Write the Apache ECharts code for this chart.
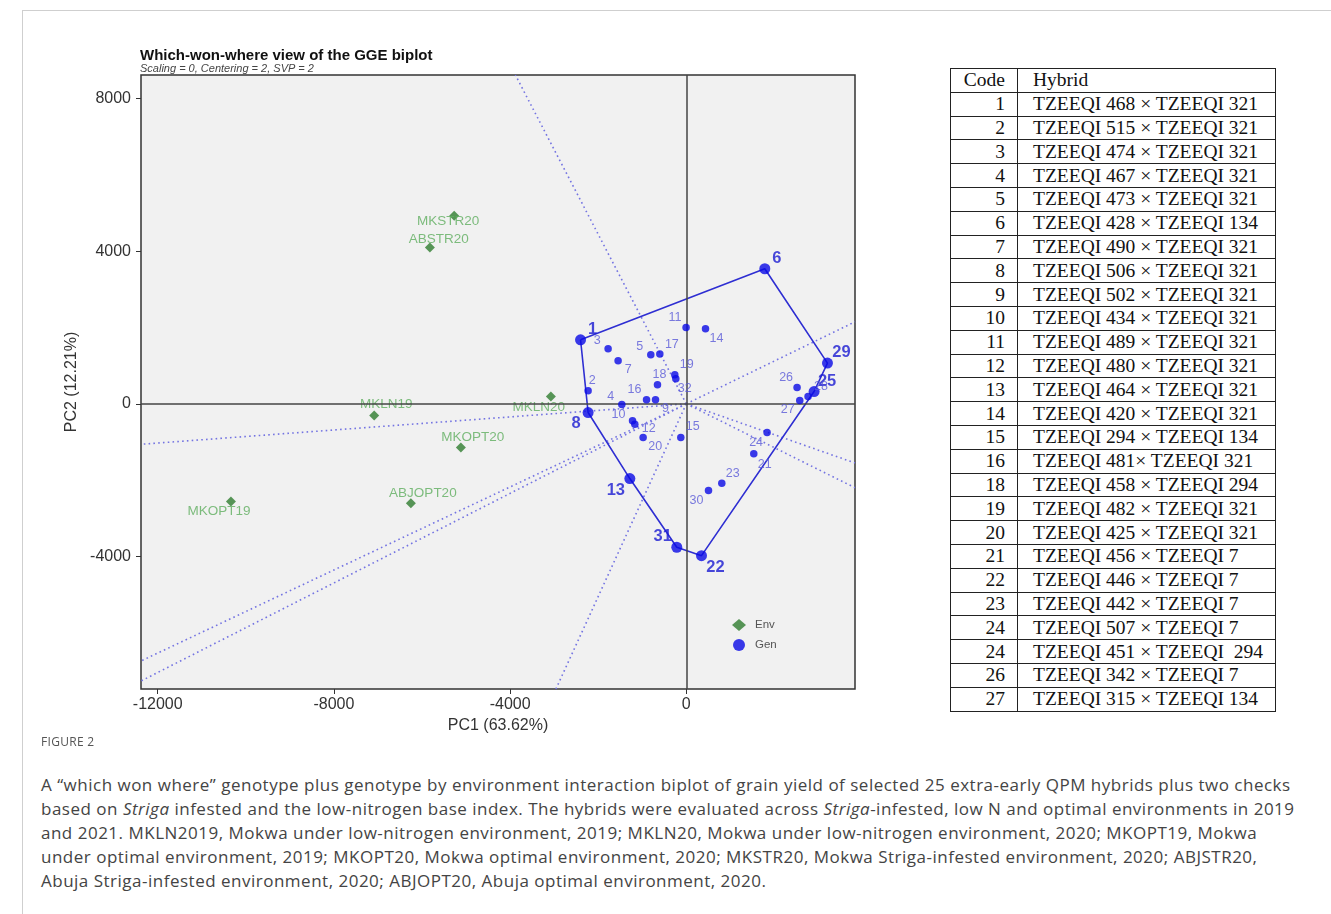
<!DOCTYPE html>
<html>
<head>
<meta charset="utf-8">
<script src="https://cdn.jsdelivr.net/npm/echarts/dist/echarts.min.js"></script>
<style>
  html, body { margin:0; padding:0; background:#fff; width:1331px; height:914px; overflow:hidden; }
  #frame { position:absolute; left:22px; top:10px; width:1320px; height:920px; border-top:1px solid #cfcfcf; border-left:1px solid #cfcfcf; }
  #chart { position:absolute; left:0; top:0; width:940px; height:740px; }
  #tbl { position:absolute; left:950px; top:68px; width:326px; border-collapse:collapse; font-family:"Liberation Serif","Times New Roman",serif; font-size:19.5px; color:#111; }
  #tbl td { border:1px solid #222; padding:0; height:22.8px; line-height:22px; white-space:nowrap; }
  #tbl td.c { width:54px; text-align:right; padding-right:12px; }
  #tbl td.h { text-align:left; padding-left:15px; }
  #fig { position:absolute; left:41px; top:733px; font-family:"Open Sans","Noto Sans",sans-serif; font-size:12px; color:#555; letter-spacing:0.3px; }
  #cap { position:absolute; left:41px; top:773px; font-family:"Open Sans","Noto Sans",sans-serif; font-size:17px; letter-spacing:0.5px; line-height:24px; color:#444; white-space:nowrap; }
</style>
</head>
<body>
<div id="frame"></div>
<div id="chart"></div>
<table id="tbl"></table>
<div id="fig">FIGURE 2</div>
<div id="cap">A “which won where” genotype plus genotype by environment interaction biplot of grain yield of selected 25 extra-early QPM hybrids plus two checks<br>based on <i>Striga</i> infested and the low-nitrogen base index. The hybrids were evaluated across <i>Striga</i>-infested, low N and optimal environments in 2019<br>and 2021. MKLN2019, Mokwa under low-nitrogen environment, 2019; MKLN20, Mokwa under low-nitrogen environment, 2020; MKOPT19, Mokwa<br>under optimal environment, 2019; MKOPT20, Mokwa optimal environment, 2020; MKSTR20, Mokwa Striga-infested environment, 2020; ABJSTR20,<br>Abuja Striga-infested environment, 2020; ABJOPT20, Abuja optimal environment, 2020.</div>
<script>
// ---------------- DATA ----------------
const genCodes = ['1','2','3','4','5','6','7','8','9','10','11','12','13','14','15','16','17','18','19','20','21','22','23','24','25','26','27','28','29','30','31','32'];
const genPC1 = [-2401,-2229,-1775,-1464,-806,1782,-1548,-2229,-699,-1221,-5,-1169,-1282,436,-125,-903,-601,-654,-261,-980,1532,345,806,1834,2901,2515,2576,2764,3205,504,-216,-238];
const genPC2 = [1679,341,1443,-18,1285,3541,1128,-228,105,-446,2001,-532,-1959,1967,-884,105,1304,498,761,-884,-1311,-3979,-2080,-753,323,428,87,191,1068,-2274,-3759,656];

const envNames = ['MKSTR20','ABSTR20','MKLN19','MKLN20','MKOPT20','ABJOPT20','MKOPT19'];
const envPC1 = [-5270,-5822,-7086,-3075,-5118,-6253,-10338];
const envPC2 = [4931,4100,-307,191,-1146,-2605,-2563];

const hullCodes = ['1','6','29','25','22','31','13','8','1'];

const rayEndPC1 = [-3880,3830,3830,3830,-2960,-12380,-12380,-12380];
const rayEndPC2 = [8620,2150,-1550,-2200,-7475,-7265,-6740,-1060];

const xTicks = [-12000,-8000,-4000,0];
const yTicks = [-4000,0,4000,8000];

const tableCodes = ['1','2','3','4','5','6','7','8','9','10','11','12','13','14','15','16','18','19','20','21','22','23','24','24','26','27'];
const tableHybrids = ['TZEEQI 468 × TZEEQI 321','TZEEQI 515 × TZEEQI 321','TZEEQI 474 × TZEEQI 321','TZEEQI 467 × TZEEQI 321','TZEEQI 473 × TZEEQI 321','TZEEQI 428 × TZEEQI 134','TZEEQI 490 × TZEEQI 321','TZEEQI 506 × TZEEQI 321','TZEEQI 502 × TZEEQI 321','TZEEQI 434 × TZEEQI 321','TZEEQI 489 × TZEEQI 321','TZEEQI 480 × TZEEQI 321','TZEEQI 464 × TZEEQI 321','TZEEQI 420 × TZEEQI 321','TZEEQI 294 × TZEEQI 134','TZEEQI 481× TZEEQI 321','TZEEQI 458 × TZEEQI 294','TZEEQI 482 × TZEEQI 321','TZEEQI 425 × TZEEQI 321','TZEEQI 456 × TZEEQI 7','TZEEQI 446 × TZEEQI 7','TZEEQI 442 × TZEEQI 7','TZEEQI 507 × TZEEQI 7','TZEEQI 451 × TZEEQI  294','TZEEQI 342 × TZEEQI 7','TZEEQI 315 × TZEEQI 134'];

// ---------------- STYLE (label offsets in px) ----------------
const genLabelOffset = {
  '1':[12,-10],'2':[4,-10],'3':[-11,-8],'4':[-11,-8],'5':[-11,-8],'6':[12,-10],'7':[10,9],'8':[-12,11],
  '9':[10,9],'10':[-14,-6],'11':[-11,-10],'12':[14,4],'13':[-14,12],'14':[11,10],'15':[12,-11],'16':[-12,-10],
  '17':[12,-10],'18':[2,-10],'19':[12,-10],'20':[12,9],'21':[11,11],'22':[14,12],'23':[11,-10],'24':[-11,10],
  '25':[13,-10],'26':[-11,-10],'27':[-12,9],'28':[13,-10],'29':[14,-11],'30':[-12,10],'31':[-14,-11],'32':[9,10]
};
const envLabelOffset = [[-6,6],[9,-8],[12,-11],[-12,11],[12,-10],[12,-10],[-12,10]];
const FONT = 'Liberation Sans, Arial, sans-serif';

// table
(function(){
  const t = document.getElementById('tbl');
  let html = '<tr><td class="c">Code</td><td class="h">Hybrid</td></tr>';
  for (let i=0;i<tableCodes.length;i++) html += '<tr><td class="c">'+tableCodes[i]+'</td><td class="h">'+tableHybrids[i].replace(/  /g,'&nbsp; ')+'</td></tr>';
  t.innerHTML = html;
})();

const vertexSet = new Set(hullCodes);
const genData = genCodes.map((c,i)=>{
  const big = vertexSet.has(c);
  return {
    name:c, value:[genPC1[i], genPC2[i]], symbolSize: big?11:7.5,
    label:{show:true, formatter:c, position:'inside', offset:genLabelOffset[c]||[10,-9],
      color: big?'#1a1ad2':'#5a5ad8', fontSize: big?16.5:12.5, fontWeight: big?'bold':'normal', fontFamily:FONT}
  };
});
const envData = envNames.map((n,i)=>({
  name:n, value:[envPC1[i], envPC2[i]],
  label:{show:true, formatter:n, position:'inside', offset:envLabelOffset[i], color:'#5fae5f', fontSize:13.5, fontFamily:FONT}
}));
const hullData = hullCodes.map(c=>{const i=genCodes.indexOf(c); return [genPC1[i], genPC2[i]];});

const raySeries = rayEndPC1.map((ex,i)=>({
  type:'line', silent:true, symbol:'none', animation:false, z:2,
  data:[[0,0],[ex, rayEndPC2[i]]],
  lineStyle:{color:'#7474e2', width:1.6, type:[1.6,3.2]}
}));

const chart = echarts.init(document.getElementById('chart'));
chart.setOption({
  animation:false,
  title:{
    text:'Which-won-where view of the GGE biplot', left:135, top:43,
    textStyle:{fontSize:15, fontWeight:'bold', color:'#111', fontFamily:FONT},
    subtext:'Scaling = 0, Centering = 2, SVP = 2', itemGap:0,
    subtextStyle:{fontSize:11, fontStyle:'italic', color:'#444', fontFamily:FONT}
  },
  grid:{left:141, top:75, width:714, height:614, show:true, backgroundColor:'#f1f1f1', borderColor:'#333', borderWidth:1.5},
  legend:{
    orient:'vertical', left:727, top:614, itemGap:8, itemWidth:14, itemHeight:12,
    textStyle:{fontSize:11.5, color:'#555', padding:[0,0,0,4], fontFamily:FONT},
    data:[{name:'Env', icon:'diamond'},{name:'Gen', icon:'circle'}]
  },
  xAxis:{
    type:'value', min:-12380, max:3830, position:'bottom',
    axisLine:{show:false, onZero:false}, splitLine:{show:false},
    axisTick:{show:true, length:5, lineStyle:{color:'#333'}, customValues:xTicks},
    axisLabel:{customValues:xTicks, formatter:v=>String(v), fontSize:16, color:'#333', margin:8, fontFamily:FONT},
    name:'PC1 (63.62%)', nameLocation:'middle', nameGap:25,
    nameTextStyle:{fontSize:16, color:'#333', fontFamily:FONT}
  },
  yAxis:{
    type:'value', min:-7475, max:8620, position:'left',
    axisLine:{show:false, onZero:false}, splitLine:{show:false},
    axisTick:{show:true, length:5, lineStyle:{color:'#333'}, customValues:yTicks},
    axisLabel:{customValues:yTicks, formatter:v=>String(v), fontSize:16, color:'#333', margin:10, fontFamily:FONT},
    name:'PC2 (12.21%)', nameLocation:'middle', nameGap:59,
    nameTextStyle:{fontSize:16, color:'#333', fontFamily:FONT}
  },
  series:[
    {
      type:'line', silent:true, symbol:'none', data:[], z:1,
      markLine:{silent:true, symbol:'none', animation:false, label:{show:false},
        lineStyle:{color:'#444', width:1.5, type:'solid'},
        data:[{xAxis:0},{yAxis:0}]}
    },
    ...raySeries,
    {type:'line', silent:true, symbol:'none', z:3, data:hullData, lineStyle:{color:'#2e2ed2', width:1.6}},
    {name:'Env', type:'scatter', symbol:'diamond', symbolSize:10, z:4, itemStyle:{color:'#2f7d2f'}, data:envData},
    {name:'Gen', type:'scatter', symbol:'circle', z:5, itemStyle:{color:'#0a0ae6'}, data:genData}
  ]
});
</script>
</body>
</html>
